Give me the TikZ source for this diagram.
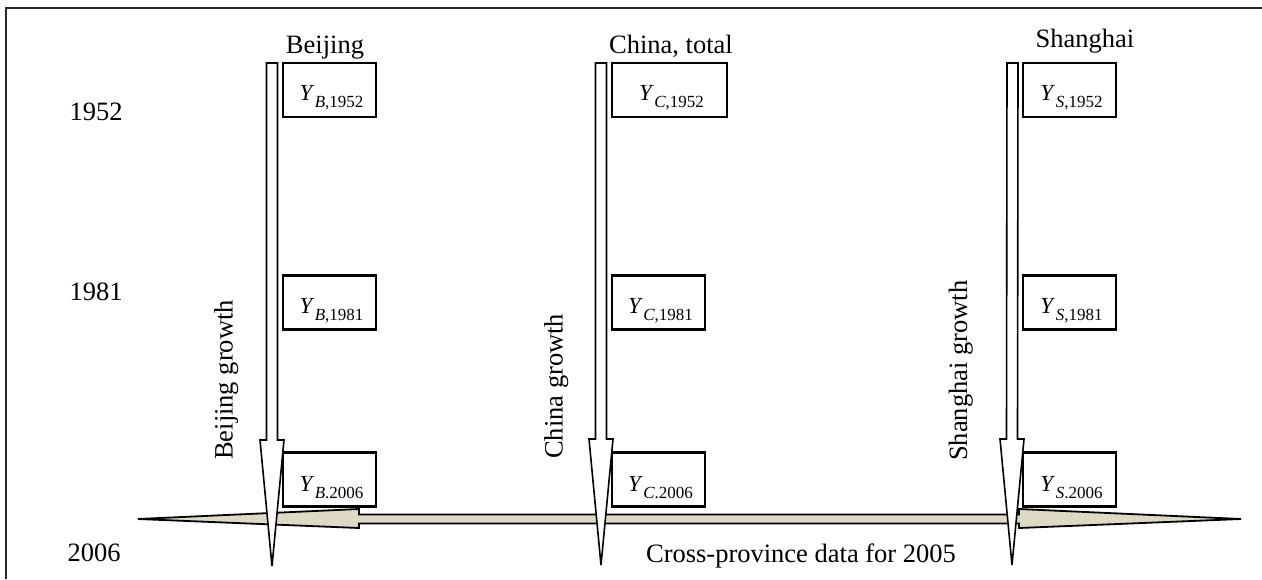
\documentclass[tikz,border=0pt]{standalone}
\usepackage{fontspec}
\setmainfont{Liberation Serif}
\usetikzlibrary{calc}
\definecolor{tanfill}{HTML}{DDD9C3}
\newcommand{\yval}[3]{\textit{Y}\kern0.5pt\raisebox{-0.3em}{\fontsize{17}{18}\selectfont\textit{#1}#2#3}}
\tikzset{
  frameline/.style={line width=2pt, draw=black!85},
  valbox/.style={draw, line width=2.6pt, fill=white, inner sep=0pt, minimum height=54pt},
  valtext/.style={inner sep=0pt, font=\fontsize{23}{26}\selectfont, xshift=2pt, yshift=-8pt},
  growth/.style={draw, line width=1.6pt, fill=white, line join=miter},
  crossarrow/.style={draw, line width=1.8pt, fill=tanfill, line join=miter},
  lbl/.style={inner sep=0pt, font=\fontsize{26.5}{30}\selectfont},
}
\newcommand{\growtharrow}[2]{%
  \draw[growth] ($(#1)+(-5.5,0)$) -- ($(#2)+(-5.5,-126)$) -- ($(#2)+(-12,-126)$) -- (#2)
    -- ($(#2)+(12,-126)$) -- ($(#2)+(5.5,-126)$) -- ($(#1)+(5.5,0)$) -- cycle;}
\begin{document}
\begin{tikzpicture}[x=1pt,y=-1pt]
\useasboundingbox (0,0) rectangle (1262,579);
% frame
\draw[frameline] (6,579) -- (6,8) -- (1262,8);

% horizontal cross-province arrow
\coordinate (hL) at (138,519);
\coordinate (hR) at (1241,519);
\draw[crossarrow] (hL) -- ($(hL)+(221,-10)$) -- ($(hL)+(221,-4.5)$) -- ($(hR)+(-222,-4.5)$)
  -- ($(hR)+(-222,-10)$) -- (hR) -- ($(hR)+(-222,9)$) -- ($(hR)+(-222,4.5)$)
  -- ($(hL)+(221,4.5)$) -- ($(hL)+(221,9)$) -- cycle;

% growth arrows
\coordinate (bTop) at (272,63);
\coordinate (bTip) at (272,566);
\coordinate (cTop) at (601,63);
\coordinate (cTip) at (601,565);
\coordinate (sTop) at (1012.5,63);
\coordinate (sTip) at (1012,565);
\growtharrow{bTop}{bTip}
\growtharrow{cTop}{cTip}
\growtharrow{sTop}{sTip}

% value boxes
\node[valbox, minimum width=93pt, label={[valtext]center:\yval{B}{,}{1952}}] (b1952) at (329.5,90) {};
\node[valbox, minimum width=93pt, label={[valtext]center:\yval{B}{,}{1981}}] (b1981) at (329.5,302.5) {};
\node[valbox, minimum width=93pt, label={[valtext]center:\yval{B}{.}{2006}}] (b2006) at (329.5,479.5) {};
\node[valbox, minimum width=115pt, label={[valtext]center:\yval{C}{,}{1952}}] (c1952) at (669.5,90) {};
\node[valbox, minimum width=93pt, label={[valtext]center:\yval{C}{,}{1981}}] (c1981) at (658.5,302.5) {};
\node[valbox, minimum width=93pt, label={[valtext]center:\yval{C}{.}{2006}}] (c2006) at (658.5,479.5) {};
\node[valbox, minimum width=93pt, label={[valtext]center:\yval{S}{,}{1952}}] (s1952) at (1069.5,90) {};
\node[valbox, minimum width=93pt, label={[valtext]center:\yval{S}{,}{1981}}] (s1981) at (1069.5,302.5) {};
\node[valbox, minimum width=93pt, label={[valtext]center:\yval{S}{.}{2006}}] (s2006) at (1069.5,479.5) {};

% column headings
\node[lbl, anchor=base] (hbj) at (325,53) {Beijing};
\node[lbl, anchor=base] (hcn) at (671,53) {China, total};
\node[lbl, anchor=base] (hsh) at (1085,47) {Shanghai};

% years
\node[lbl, anchor=base] (y1952) at (96,120) {1952};
\node[lbl, anchor=base] (y1981) at (96,300) {1981};
\node[lbl, anchor=base] (y2006) at (94,561) {2006};

% growth labels
\node[lbl, rotate=90, anchor=base west] (gbj) at (232.5,460) {Beijing growth};
\node[lbl, rotate=90, anchor=base west] (gcn) at (562.5,459) {China growth};
\node[lbl, rotate=90, anchor=base west] (gsh) at (967,461) {Shanghai growth};

% cross-province label
\node[lbl, anchor=base] (cross) at (801,562) {Cross-province data for 2005};
\end{tikzpicture}
\end{document}
